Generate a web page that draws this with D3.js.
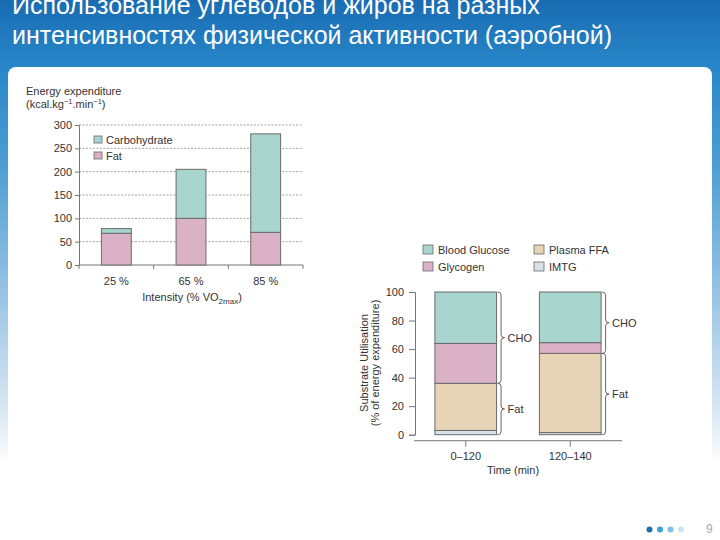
<!DOCTYPE html>
<html><head><meta charset="utf-8">
<script src="https://cdn.jsdelivr.net/npm/d3@7"></script>
<style>html,body{margin:0;padding:0;background:#fff;}svg{display:block;font-family:"Liberation Sans",Arial,sans-serif;}</style>
</head><body>
<script>
// ---------- data ----------
const titleLines = ["Использование углеводов и жиров на разных", "интенсивностях физической активности (аэробной)"];

// Chart 1
const intensities = ["25 %", "65 %", "85 %"];
const fatKcal = [68, 100, 70];
const choKcal = [10, 105, 211];
const yTicks1 = [0, 50, 100, 150, 200, 250, 300];
const legend1 = ["Carbohydrate", "Fat"];

// Chart 2
const periods = ["0–120", "120–140"];
const imtg = [3, 1.5];
const plasmaFFA = [33, 55.5];
const glycogen = [28, 7.5];
const bloodGlucose = [36, 35.5];
const yTicks2 = [0, 20, 40, 60, 80, 100];
const legend2 = ["Blood Glucose", "Glycogen", "Plasma FFA", "IMTG"];

const pageNumber = "9";

// ---------- drawing ----------
const W = 720, H = 540;
const svg = d3.select("body").append("svg").attr("width", W).attr("height", H);
const defs = svg.append("defs");
const g = defs.append("linearGradient").attr("id", "bg").attr("x1", 0).attr("y1", 0).attr("x2", 0).attr("y2", 1);
[[0, "#1a6cb2"], [0.12, "#2786c8"], [0.3, "#4c9dd3"], [0.6, "#a9cde8"], [0.75, "#d6e6f2"], [0.86, "#ffffff"]]
  .forEach(([o, c]) => g.append("stop").attr("offset", o).attr("stop-color", c));
svg.append("rect").attr("width", W).attr("height", H).attr("fill", "url(#bg)");
svg.append("rect").attr("x", 8).attr("y", 67).attr("width", 704).attr("height", 500).attr("rx", 8).attr("fill", "#ffffff");

// title
svg.append("g").selectAll("text").data(titleLines).join("text")
  .attr("x", 12).attr("y", (d, i) => 14 + i * 30)
  .attr("fill", "#ffffff").attr("font-size", 25).text(d => d);

const TXT = "#333333", OUT = "#6a6a6a";
const cCHO = "#a9d5cf", cFat = "#dbb1c6", cFFA = "#e7d4b6", cIMTG = "#d6e1eb";

// ---------- Chart 1 ----------
{
  const x = d3.scaleBand().domain(intensities).range([79, 303]).paddingInner(0.6).paddingOuter(0.3);
  const y = d3.scaleLinear().domain([0, 300]).range([265, 125]);
  const c = svg.append("g");
  // grid
  c.append("g").selectAll("line").data(yTicks1.filter(v => v > 0)).join("line")
    .attr("x1", 79).attr("x2", 303).attr("y1", d => y(d)).attr("y2", d => y(d))
    .attr("stroke", "#8a8a8a").attr("stroke-width", 0.8).attr("stroke-dasharray", "2,1.5");
  // y axis
  const ya = c.append("g").attr("transform", "translate(79,0)")
    .call(d3.axisLeft(y).tickValues(yTicks1).tickSize(4).tickPadding(3));
  ya.select(".domain").attr("stroke", "#777");
  ya.selectAll(".tick line").attr("stroke", "#777");
  ya.selectAll("text").attr("fill", TXT).attr("font-size", 11).attr("font-family", "Liberation Sans, Arial, sans-serif");
  // x axis
  c.append("line").attr("x1", 79).attr("x2", 303).attr("y1", y(0)).attr("y2", y(0)).attr("stroke", "#777");
  const bounds = intensities.map(d => x(d) - x.step() * x.paddingInner() / 2).concat([303]);
  c.append("g").selectAll("line").data(bounds).join("line")
    .attr("x1", d => d).attr("x2", d => d).attr("y1", y(0)).attr("y2", y(0) + 4).attr("stroke", "#777");
  c.append("g").selectAll("text").data(intensities).join("text")
    .attr("x", d => x(d) + x.bandwidth() / 2).attr("y", 285).attr("text-anchor", "middle")
    .attr("font-size", 11).attr("fill", TXT).text(d => d);
  // bars
  const rows1 = intensities.map((k, i) => ({k, fat: fatKcal[i], cho: choKcal[i]}));
  c.append("g").selectAll("rect").data(rows1).join("rect")
    .attr("x", d => x(d.k)).attr("width", x.bandwidth())
    .attr("y", d => y(d.fat)).attr("height", d => y(0) - y(d.fat))
    .attr("fill", cFat).attr("stroke", OUT).attr("stroke-width", 1);
  c.append("g").selectAll("rect").data(rows1).join("rect")
    .attr("x", d => x(d.k)).attr("width", x.bandwidth())
    .attr("y", d => y(d.fat + d.cho)).attr("height", d => y(d.fat) - y(d.fat + d.cho))
    .attr("fill", cCHO).attr("stroke", OUT).attr("stroke-width", 1);
  // legend
  const lg = c.append("g").selectAll("g").data(legend1).join("g")
    .attr("transform", (d, i) => `translate(94,${136 + i * 16})`);
  lg.append("rect").attr("width", 8).attr("height", 7).attr("fill", (d, i) => i === 0 ? cCHO : cFat).attr("stroke", OUT).attr("stroke-width", 0.8);
  lg.append("text").attr("x", 12).attr("y", 7.5).attr("font-size", 11).attr("fill", TXT).text(d => d);
  // titles
  c.append("text").attr("x", 26).attr("y", 95).attr("font-size", 11).attr("fill", TXT).text("Energy expenditure");
  const t2 = c.append("text").attr("x", 26).attr("y", 107.5).attr("font-size", 11).attr("fill", TXT);
  t2.append("tspan").text("(kcal.kg");
  t2.append("tspan").attr("dy", -4).attr("font-size", 7.5).text("−1");
  t2.append("tspan").attr("dy", 4).text(".min");
  t2.append("tspan").attr("dy", -4).attr("font-size", 7.5).text("−1");
  t2.append("tspan").attr("dy", 4).text(")");
  const xt = c.append("text").attr("x", 192).attr("y", 301).attr("text-anchor", "middle").attr("font-size", 11).attr("fill", TXT);
  xt.append("tspan").text("Intensity (% VO");
  xt.append("tspan").attr("dy", 3).attr("font-size", 8).text("2max");
  xt.append("tspan").attr("dy", -3).text(")");
}

// ---------- Chart 2 ----------
{
  const x = d3.scaleBand().domain(periods).range([414, 622]).paddingInner(0.41).paddingOuter(0.2);
  const y = d3.scaleLinear().domain([0, 100]).range([434.7, 292]);
  const c = svg.append("g");
  const keys = ["imtg", "ffa", "glycogen", "glucose"];
  const colors = {imtg: cIMTG, ffa: cFFA, glycogen: cFat, glucose: cCHO};
  const rows = periods.map((p, i) => ({p, imtg: imtg[i], ffa: plasmaFFA[i], glycogen: glycogen[i], glucose: bloodGlucose[i]}));
  const stack = d3.stack().keys(keys)(rows);
  c.append("g").selectAll("g").data(stack).join("g").attr("fill", s => colors[s.key])
    .selectAll("rect").data(s => s).join("rect")
    .attr("x", d => x(d.data.p)).attr("width", x.bandwidth())
    .attr("y", d => y(d[1])).attr("height", d => y(d[0]) - y(d[1]))
    .attr("stroke", OUT).attr("stroke-width", 1);
  // y axis
  const ya = c.append("g").attr("transform", "translate(415,0)")
    .call(d3.axisLeft(y).tickValues(yTicks2).tickSize(6).tickPadding(5));
  ya.select(".domain").attr("stroke", "#777");
  ya.selectAll(".tick line").attr("stroke", "#777");
  ya.selectAll("text").attr("fill", TXT).attr("font-size", 11).attr("font-family", "Liberation Sans, Arial, sans-serif");
  // x axis
  c.append("line").attr("x1", 414).attr("x2", 622).attr("y1", 440.7).attr("y2", 440.7).attr("stroke", "#777");
  c.append("g").selectAll("line").data(periods).join("line")
    .attr("x1", d => x(d) + x.bandwidth() / 2).attr("x2", d => x(d) + x.bandwidth() / 2)
    .attr("y1", 440.7).attr("y2", 446.7).attr("stroke", "#777");
  c.append("g").selectAll("text").data(periods).join("text")
    .attr("x", d => x(d) + x.bandwidth() / 2).attr("y", 460).attr("text-anchor", "middle")
    .attr("font-size", 11).attr("fill", TXT).text(d => d);
  c.append("text").attr("x", 513).attr("y", 474).attr("text-anchor", "middle").attr("font-size", 11).attr("fill", TXT).text("Time (min)");
  // y title
  const yt = c.append("text").attr("transform", "translate(368,363) rotate(-90)").attr("text-anchor", "middle").attr("font-size", 11).attr("fill", TXT);
  yt.append("tspan").attr("x", 0).attr("dy", 0).text("Substrate Utilisation");
  yt.append("tspan").attr("x", 0).attr("dy", 11).text("(% of energy expenditure)");
  // braces
  function brace(x0, yTop, yBot) {
    const m = (yTop + yBot) / 2, w = 7, r = 3;
    return `M${x0},${yTop} Q${x0 + w / 2},${yTop} ${x0 + w / 2},${yTop + r} L${x0 + w / 2},${m - r} Q${x0 + w / 2},${m} ${x0 + w},${m} Q${x0 + w / 2},${m} ${x0 + w / 2},${m + r} L${x0 + w / 2},${yBot - r} Q${x0 + w / 2},${yBot} ${x0},${yBot}`;
  }
  const groups = [];
  rows.forEach(r => {
    const fat = r.imtg + r.ffa, tot = fat + r.glycogen + r.glucose;
    groups.push({p: r.p, lab: "CHO", a: fat, b: tot});
    groups.push({p: r.p, lab: "Fat", a: 0, b: fat});
  });
  c.append("g").selectAll("path").data(groups).join("path")
    .attr("d", d => brace(x(d.p) + x.bandwidth() + 1, y(d.b), y(d.a)))
    .attr("fill", "none").attr("stroke", "#555").attr("stroke-width", 0.9);
  c.append("g").selectAll("text").data(groups).join("text")
    .attr("x", d => x(d.p) + x.bandwidth() + 11).attr("y", d => y((d.a + d.b) / 2) + 4)
    .attr("font-size", 11).attr("fill", TXT).text(d => d.lab);
  // legend
  const lpos = [[423, 245], [423, 262], [534, 245], [534, 262]];
  const lcol = [cCHO, cFat, cFFA, cIMTG];
  const lg = c.append("g").selectAll("g").data(legend2).join("g")
    .attr("transform", (d, i) => `translate(${lpos[i][0]},${lpos[i][1]})`);
  lg.append("rect").attr("width", 10).attr("height", 9).attr("fill", (d, i) => lcol[i]).attr("stroke", OUT).attr("stroke-width", 0.8);
  lg.append("text").attr("x", 15).attr("y", 8.5).attr("font-size", 11).attr("fill", TXT).text(d => d);
}

// footer dots and page number
svg.append("g").selectAll("circle").data(["#1f6da6", "#3e9fd8", "#80bfe6", "#cce3f3"]).join("circle")
  .attr("cx", (d, i) => 649.5 + i * 10.5).attr("cy", 529.5).attr("r", 3).attr("fill", d => d);
svg.append("text").attr("x", 706).attr("y", 533).attr("font-size", 12).attr("fill", "#a8a8a8").text(pageNumber);
</script>
</body></html>
